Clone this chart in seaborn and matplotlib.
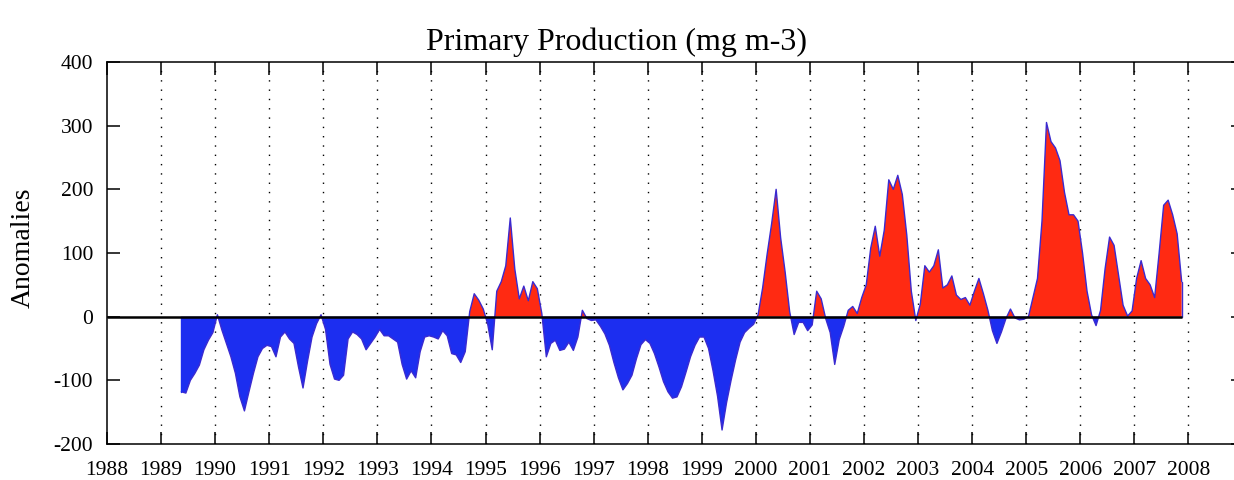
import numpy as np
import pandas as pd
import matplotlib
matplotlib.use("Agg")
import matplotlib.pyplot as plt
import seaborn as sns

# Monthly anomalies (mg m-3), May 1989 .. Nov 2007
a1989 = [-118, -120, -100, -89, -76, -52, -37, -25]
a1990 = [3, -21, -42, -63, -89, -126, -148, -118, -89, -63, -50, -45]
a1991 = [-47, -63, -32, -24, -35, -42, -79, -112, -70, -32, -11, 3]
a1992 = [-20, -75, -98, -100, -92, -35, -24, -28, -35, -52, -42, -32]
a1993 = [-20, -30, -30, -35, -40, -75, -98, -85, -96, -55, -32, -30]
a1994 = [-32, -35, -22, -30, -58, -60, -72, -55, 8, 36, 26, 12]
a1995 = [-12, -52, 40, 55, 80, 155, 75, 28, 48, 25, 55, 44]
a1996 = [5, -63, -42, -37, -53, -51, -40, -53, -32, 10, -3, -6]
a1997 = [-5, -15, -27, -45, -72, -96, -115, -105, -92, -66, -44, -36]
a1998 = [-42, -58, -79, -102, -118, -128, -126, -110, -87, -63, -45, -32]
a1999 = [-32, -50, -85, -125, -178, -135, -100, -68, -40, -25, -18, -12]
a2000 = [3, 45, 98, 146, 200, 124, 70, 8, -28, -9, -9, -22]
a2001 = [-13, 40, 28, -3, -25, -75, -36, -15, 10, 16, 5, 30]
a2002 = [50, 108, 142, 95, 136, 215, 200, 222, 192, 128, 40, -6]
a2003 = [20, 80, 70, 80, 105, 45, 50, 64, 34, 27, 30, 18]
a2004 = [40, 60, 36, 10, -22, -42, -24, -3, 12, -2, -5, -4]
a2005 = [0, 30, 60, 150, 305, 275, 265, 245, 195, 160, 160, 150]
a2006 = [100, 40, 3, -14, 10, 75, 125, 112, 65, 18, 1, 9]
a2007 = [60, 88, 60, 50, 30, 100, 175, 183, 160, 130, 55]

start_year = 1989
start_month = 4  # May (0-based)
year_ticks = list(range(1988, 2009))
y_ticks = [-200, -100, 0, 100, 200, 300, 400]

values = np.array(a1989 + a1990 + a1991 + a1992 + a1993 + a1994 + a1995 + a1996
                  + a1997 + a1998 + a1999 + a2000 + a2001 + a2002 + a2003 + a2004
                  + a2005 + a2006 + a2007, dtype=float)
t = start_year + (start_month + 0.5 + np.arange(len(values))) / 12.0
df = pd.DataFrame({"time": t, "anom": values})

sns.set_theme(style="ticks")
plt.rcParams["font.family"] = ["Liberation Serif", "DejaVu Serif"]

W, H = 1234, 480
fig = plt.figure(figsize=(W / 100, H / 100), dpi=100)
fig.patch.set_facecolor("white")
ax = fig.add_axes([107 / W, 36 / H, 1135.5 / W, 382 / H])
ax.set_facecolor("white")

# dotted year grid (behind fills)
for yr in year_ticks[1:]:
    ax.axvline(yr, color="black", lw=1.0, linestyle=(0, (1, 5.7)), zorder=0.5)

ax.fill_between(df["time"], 0, df["anom"], where=df["anom"] <= 0, interpolate=True,
                color="#1c2ef0", lw=0, zorder=2)
ax.fill_between(df["time"], 0, df["anom"], where=df["anom"] >= 0, interpolate=True,
                color="#ff2a12", lw=0, zorder=2)
sns.lineplot(data=df, x="time", y="anom", color="#3a2ad0", lw=1.0,
             estimator=None, ax=ax, zorder=3)
# vertical edges at start and end of record
ax.plot([t[0], t[0]], [0, values[0]], color="#1c2ef0", lw=1.0, zorder=3)
ax.plot([t[-1], t[-1]], [0, values[-1]], color="#3a2ad0", lw=1.0, zorder=3)

# zero line
ax.plot([1988, t[-1]], [0, 0], color="black", lw=1.8, zorder=4, solid_capstyle="butt")

ax.set_xlim(1988, 2009)
ax.set_ylim(-200, 400)
ax.set_xticks(year_ticks)
ax.set_xticklabels([str(y) for y in year_ticks])
ax.set_yticks(y_ticks)
ax.set_yticklabels([str(y) for y in y_ticks])
ax.tick_params(direction="in", length=9, width=1.1, top=True, right=True,
               labelsize=15.5, colors="black")
ax.tick_params(axis="x", pad=12)
ax.tick_params(axis="y", pad=10)
for s in ax.spines.values():
    s.set_visible(True)
    s.set_color("black")
    s.set_linewidth(1.1)
ax.set_xlabel("")
ax.set_ylabel("")

fig.text(617 / W, 1 - 50 / H, "Primary Production (mg m-3)", ha="center",
         va="baseline", fontsize=23, color="black")
fig.text(23 / W, 1 - 248 / H, "Anomalies", rotation=90, ha="center", va="center",
         fontsize=20, color="black")

fig.savefig("out.png", dpi=100)
